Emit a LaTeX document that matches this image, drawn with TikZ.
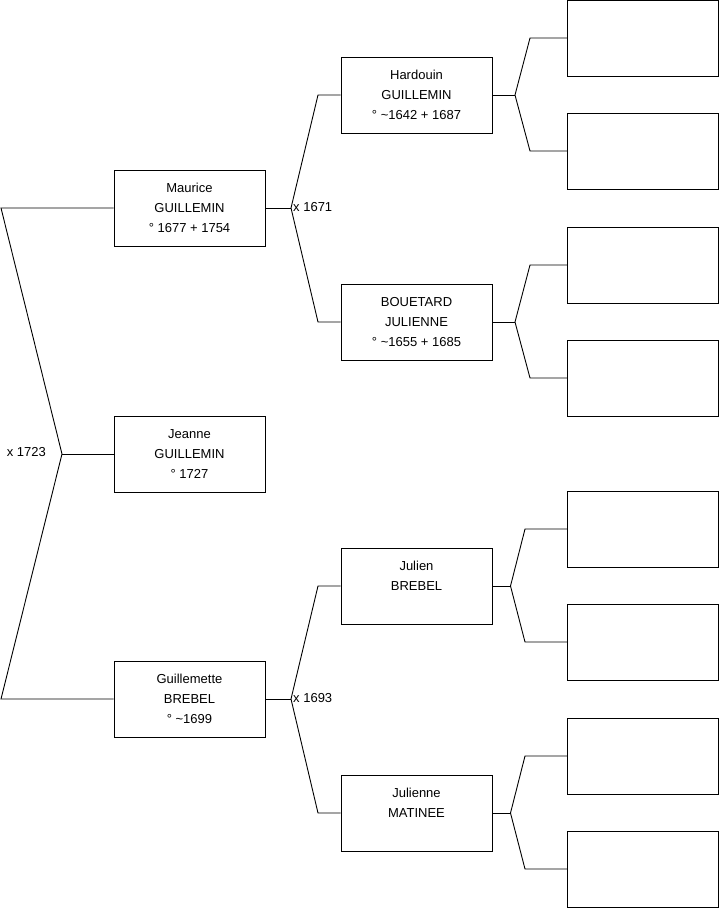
\documentclass[tikz,border=0pt]{standalone}
\usepackage{fontspec}
\setmainfont{Liberation Sans}
\usetikzlibrary{positioning}
\tikzstyle{personbox} = [rectangle, minimum width=151pt, minimum height=76pt, text centered, align=center, draw=black, line width=0.9pt, font=\fontsize{13}{20}\selectfont]
\tikzstyle{emptybox} = [rectangle, minimum width=151pt, minimum height=76pt, draw=black, line width=0.9pt]
\tikzstyle{link} = [line width=0.9pt]
\tikzstyle{wedding} = [font=\fontsize{13}{16}\selectfont, inner sep=0pt]

\begin{document}
\begin{tikzpicture}[x=1pt, y=-1pt]
\useasboundingbox (0,0) rectangle (719,908);

% Persons
\node (maurice) [personbox] at (189.5,208) {Maurice\\GUILLEMIN\\° 1677 + 1754};
\node (jeanne) [personbox] at (189.5,454) {Jeanne\\GUILLEMIN\\° 1727};
\node (guillemette) [personbox] at (189.5,699) {Guillemette\\BREBEL\\° \textasciitilde1699};
\node (hardouin) [personbox] at (416.5,95) {Hardouin\\GUILLEMIN\\° \textasciitilde1642 + 1687};
\node (bouetard) [personbox] at (416.5,322) {BOUETARD\\JULIENNE\\° \textasciitilde1655 + 1685};
\node (julien) [personbox] at (416.5,586) {Julien\\BREBEL\\\mbox{}};
\node (julienne) [personbox] at (416.5,813) {Julienne\\MATINEE\\\mbox{}};

% Unknown ancestors
\node (hfather) [emptybox] at (643,38) {};
\node (hmother) [emptybox] at (643,151) {};
\node (bfather) [emptybox] at (643,265) {};
\node (bmother) [emptybox] at (643,378) {};
\node (jfather) [emptybox] at (643,529) {};
\node (jmother) [emptybox] at (643,642) {};
\node (mfather) [emptybox] at (643,756) {};
\node (mmother) [emptybox] at (643,869) {};

% Forks
\coordinate (m1723) at (62,454);
\coordinate (m1723up) at (1,208);
\coordinate (m1723down) at (1,699);
\coordinate (m1671) at (291,208);
\coordinate (m1671up) at (318,95);
\coordinate (m1671down) at (318,322);
\coordinate (m1693) at (291,699);
\coordinate (m1693up) at (318,586);
\coordinate (m1693down) at (318,813);
\coordinate (hfork) at (515,95);
\coordinate (hforkup) at (530,38);
\coordinate (hforkdown) at (530,151);
\coordinate (bfork) at (515,322);
\coordinate (bforkup) at (530,265);
\coordinate (bforkdown) at (530,378);
\coordinate (jfork) at (510.5,586);
\coordinate (jforkup) at (525,529);
\coordinate (jforkdown) at (525,642);
\coordinate (mfork) at (510.5,813);
\coordinate (mforkup) at (525,756);
\coordinate (mforkdown) at (525,869);

% Links
\draw [link] (jeanne) -- (m1723);
\draw [link] (m1723) -- (m1723up) -- (maurice);
\draw [link] (m1723) -- (m1723down) -- (guillemette);
\draw [link] (maurice) -- (m1671);
\draw [link] (m1671) -- (m1671up) -- (hardouin);
\draw [link] (m1671) -- (m1671down) -- (bouetard);
\draw [link] (guillemette) -- (m1693);
\draw [link] (m1693) -- (m1693up) -- (julien);
\draw [link] (m1693) -- (m1693down) -- (julienne);
\draw [link] (hardouin) -- (hfork);
\draw [link] (hfork) -- (hforkup) -- (hfather);
\draw [link] (hfork) -- (hforkdown) -- (hmother);
\draw [link] (bouetard) -- (bfork);
\draw [link] (bfork) -- (bforkup) -- (bfather);
\draw [link] (bfork) -- (bforkdown) -- (bmother);
\draw [link] (julien) -- (jfork);
\draw [link] (jfork) -- (jforkup) -- (jfather);
\draw [link] (jfork) -- (jforkdown) -- (jmother);
\draw [link] (julienne) -- (mfork);
\draw [link] (mfork) -- (mforkup) -- (mfather);
\draw [link] (mfork) -- (mforkdown) -- (mmother);

% Marriage dates
\node (d1723) [wedding, left=16pt of m1723, yshift=2pt] {x 1723};
\node (d1671) [wedding, right=2pt of m1671, yshift=1pt] {x 1671};
\node (d1693) [wedding, right=2pt of m1693, yshift=1pt] {x 1693};

\end{tikzpicture}
\end{document}
